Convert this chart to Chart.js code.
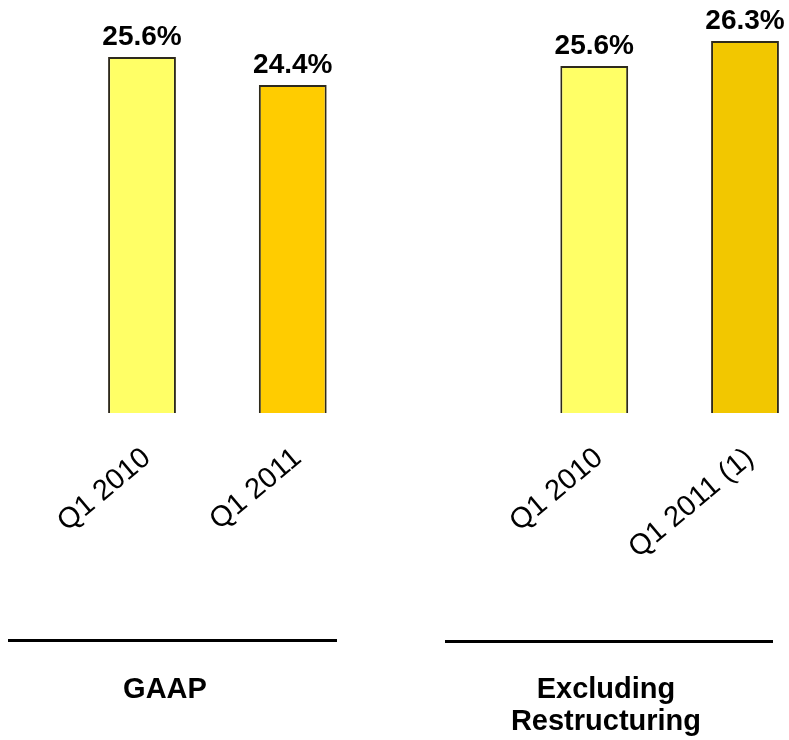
<!DOCTYPE html>
<html>
<head>
<meta charset="utf-8">
<script src="https://cdn.jsdelivr.net/npm/chart.js@4/dist/chart.umd.min.js"></script>
<style>
  html, body { margin: 0; padding: 0; background: #ffffff; }
  #wrap { position: relative; width: 789px; height: 740px; overflow: hidden; background: #fff; }
  #c { position: absolute; left: 0; top: 0; }
  .rule { position: absolute; height: 3px; background: #000; }
  .grp { position: absolute; width: 260px; text-align: center; font-family: "Liberation Sans", Arial, sans-serif;
         font-weight: bold; font-size: 29px; line-height: 32px; color: #000; }
</style>
</head>
<body>
<div id="wrap">
  <canvas id="c" width="789" height="740"></canvas>
  <div class="rule" style="left:8px; top:639px; width:329px;"></div>
  <div class="rule" style="left:445px; top:640px; width:328px;"></div>
  <div class="grp" style="left:35px; top:672px;">GAAP</div>
  <div class="grp" style="left:476px; top:672px;">Excluding<br>Restructuring</div>
</div>
<script>
// ---- data ----
const categories = ["Q1 2010", "Q1 2011", "", "Q1 2010", "Q1 2011 (1)"];
const gaapValues = [25.6, 24.4, null, null, null];
const exclRestructuringValues = [null, null, null, 25.6, 26.3];
const groupNames = ["GAAP", "Excluding Restructuring"];

const barColors = ["#FFFF66", "#FFCC00", "#FFFFFF", "#FFFF66", "#F2C700"];

const valueLabelPlugin = {
  id: 'valueLabels',
  afterDatasetsDraw(chart) {
    const ctx = chart.ctx;
    ctx.save();
    ctx.font = 'bold 28px "Liberation Sans", Arial, sans-serif';
    ctx.fillStyle = '#000';
    ctx.textAlign = 'center';
    ctx.textBaseline = 'alphabetic';
    chart.data.datasets.forEach((ds, di) => {
      const meta = chart.getDatasetMeta(di);
      meta.data.forEach((el, i) => {
        const v = ds.data[i];
        if (v === null || v === undefined) return;
        ctx.fillText(v.toFixed(1) + '%', el.x, el.y - 12);
      });
    });
    ctx.restore();
  }
};

const clipOpts = { left: false, right: false, top: false, bottom: 0 };

new Chart(document.getElementById('c'), {
  type: 'bar',
  data: {
    labels: categories,
    datasets: [
      {
        label: groupNames[0],
        data: gaapValues,
        yAxisID: 'y',
        backgroundColor: barColors,
        borderColor: '#2e2a1c',
        borderWidth: 2,
        grouped: false,
        clip: clipOpts,
        barPercentage: 0.45,
        categoryPercentage: 1
      },
      {
        label: groupNames[1],
        data: exclRestructuringValues,
        yAxisID: 'y2',
        backgroundColor: barColors,
        borderColor: '#2e2a1c',
        borderWidth: 2,
        grouped: false,
        clip: clipOpts,
        barPercentage: 0.45,
        categoryPercentage: 1
      }
    ]
  },
  options: {
    responsive: false,
    animation: false,
    layout: { padding: { left: 142, right: 44, top: 0, bottom: 0 } },
    plugins: { legend: { display: false }, tooltip: { enabled: false }, title: { display: false } },
    scales: {
      x: {
        type: 'category',
        offset: false,
        grid: { display: false, drawTicks: false },
        border: { display: false },
        ticks: {
          autoSkip: false,
          minRotation: 40,
          maxRotation: 40,
          padding: 28,
          labelOffset: 5,
          color: '#000',
          font: { family: '"Liberation Sans", Arial, sans-serif', size: 29 }
        },
        afterFit(scale) {
          scale.height = 327;
          scale.paddingLeft = 0;
          scale.paddingRight = 0;
        }
      },
      y: {
        display: false,
        min: 10.34,
        max: 28.04
      },
      y2: {
        display: false,
        min: 15.88,
        max: 27.45
      }
    }
  },
  plugins: [valueLabelPlugin]
});
</script>
</body>
</html>
